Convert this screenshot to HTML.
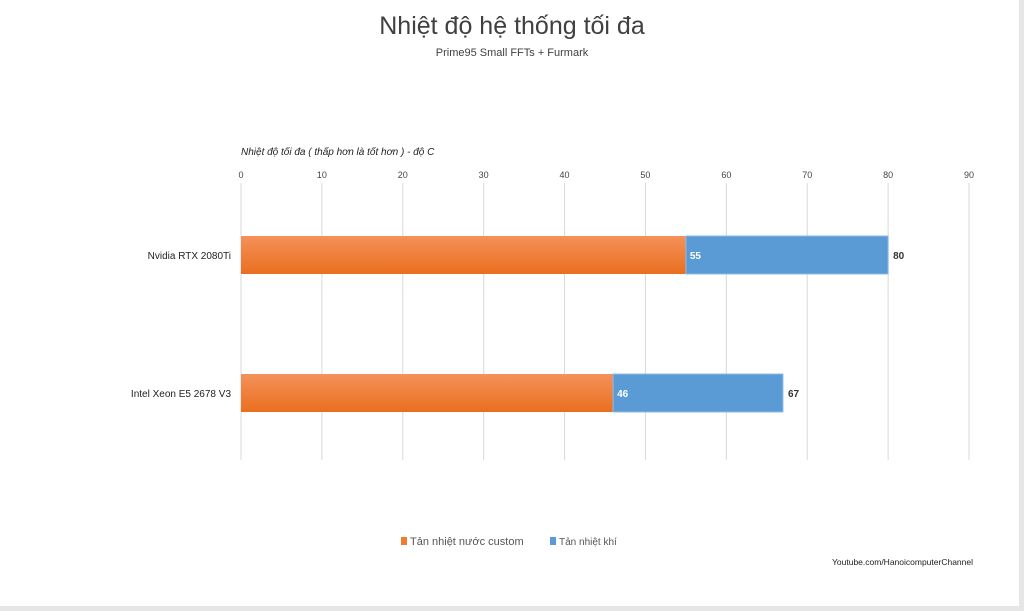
<!DOCTYPE html>
<html><head><meta charset="utf-8"><style>
html,body{margin:0;padding:0;background:#fff}
body{width:1024px;height:611px;position:relative;overflow:hidden;font-family:"Liberation Sans","Noto Sans CJK SC",sans-serif}
#frame{position:absolute;left:0;top:0;width:1019px;height:606px;border-right:5px solid #e6e6e6;border-bottom:5px solid #e6e6e6}
</style></head><body>
<div id="frame"></div>
<svg id="chart" width="1024" height="611" style="position:absolute;left:0;top:0">
<text x="512" y="34" text-anchor="middle" font-size="25" fill="#404040" font-family="Liberation Sans, sans-serif">Nhiệt độ hệ thống tối đa</text>
<text x="512" y="56" text-anchor="middle" font-size="11" fill="#404040">Prime95 Small FFTs + Furmark</text>
<text x="241" y="155" font-size="10" font-style="italic" fill="#222">Nhiệt độ tối đa ( thấp hơn là tốt hơn ) - độ C</text>
<g id="grid"></g><g id="bars"></g>
<rect x="401" y="537" width="6" height="8" fill="#ed7d31"/>
<text x="410" y="545" font-size="11" fill="#555">Tản nhiệt nước custom</text>
<rect x="550" y="537" width="6" height="8" fill="#5b9bd5"/>
<text x="559" y="545" font-size="10" fill="#555">Tản nhiệt khí</text>
<text x="973" y="565" text-anchor="end" font-size="8.5" fill="#222">Youtube.com/HanoicomputerChannel</text>
</svg>
<script>
const categories=["Nvidia RTX 2080Ti","Intel Xeon E5 2678 V3"];
const waterValues=[55,46];
const airValues=[80,67];
const ticks=[0,10,20,30,40,50,60,70,80,90];
const NS="http://www.w3.org/2000/svg";
const x0=241,x1=969,vmax=90,top0=186,bot=462,gTop=183,gBot=460;
const xs=v=>x0+(x1-x0)*v/vmax;
const bandH=(bot-top0)/categories.length;
const yc=i=>top0+bandH*(i+0.5);
function mk(tag,a,p){const e=document.createElementNS(NS,tag);for(const k in a)e.setAttribute(k,a[k]);p.appendChild(e);return e;}
const g=document.getElementById('grid'),b=document.getElementById('bars');
ticks.forEach(t=>{
 const l=mk('line',{x1:xs(t),x2:xs(t),y1:gTop,y2:gBot,stroke:'#d9d9d9','stroke-width':1},g);
 
 
 const tx=mk('text',{x:xs(t),y:178,'text-anchor':'middle','font-size':9,fill:'#444'},g);
 tx.textContent=t;
 
 
});
const defs=mk('defs',{},b);
const gr=mk('linearGradient',{id:'og',x1:0,y1:0,x2:0,y2:1},defs);
mk('stop',{offset:'0','stop-color':'#f4915a'},gr);mk('stop',{offset:'1','stop-color':'#ea6f1f'},gr);
categories.forEach((c,i)=>{
 const h=38,y=yc(i)-h/2;
 const lab=mk('text',{x:231,y:yc(i)+4,'text-anchor':'end','font-size':10,fill:'#222'},b);
 lab.textContent=c;
 
 
 const r1=mk('rect',{x:x0,y:y,width:xs(waterValues[i])-x0,height:h,fill:'url(#og)'},b);
 
 
 const r2=mk('rect',{x:xs(waterValues[i]),y:y,width:xs(airValues[i])-xs(waterValues[i]),height:h,fill:'#5b9bd5',stroke:'#8fbbe6','stroke-width':1},b);
 
 
 const t1=mk('text',{x:xs(waterValues[i])+4,y:yc(i)+4,'font-size':10,'font-weight':'bold',fill:'#fff'},b);
 t1.textContent=waterValues[i];
 
 
 const t2=mk('text',{x:xs(airValues[i])+5,y:yc(i)+4,'font-size':10,'font-weight':'bold',fill:'#333'},b);
 t2.textContent=airValues[i];
 
 
});
</script>
</body></html>
